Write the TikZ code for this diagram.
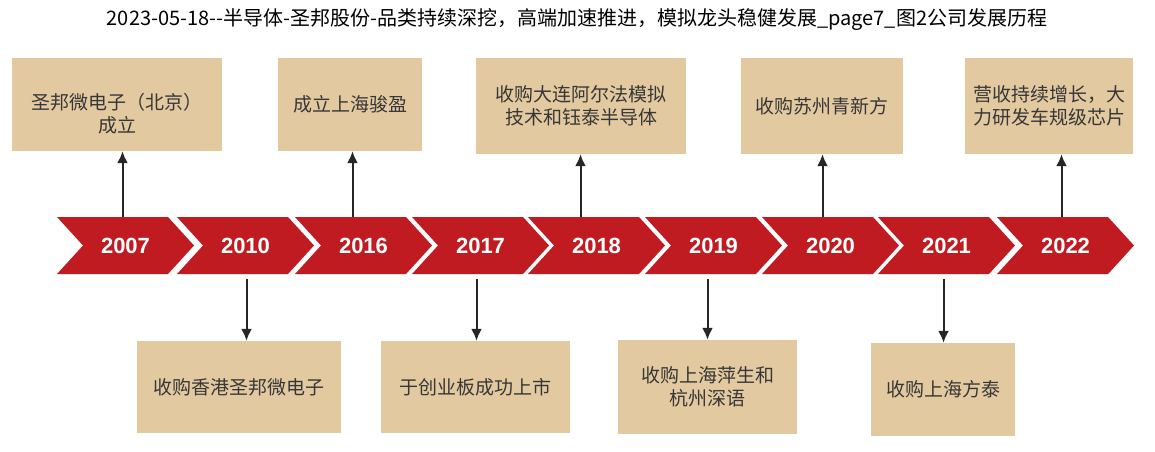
\documentclass[tikz,border=0pt]{standalone}
\usepackage{fontspec}
\setmainfont{Noto Sans CJK SC}
\newfontfamily\yearfont{Liberation Sans}[BoldFont=* Bold]
\usetikzlibrary{arrows.meta}
\definecolor{chevred}{RGB}{192,27,33}
\definecolor{boxtan}{RGB}{227,201,160}
\definecolor{txtgray}{RGB}{55,55,55}
\tikzset{
  chev/.style={fill=chevred, draw=none},
  year/.style={font=\yearfont\bfseries\fontsize{22}{24}\selectfont, text=white, minimum width=137, minimum height=57, inner sep=0},
  evbox/.style={fill=boxtan, draw=none, inner sep=0, align=center, text=txtgray,
    font=\fontsize{19}{23}\selectfont},
  boxtext/.style={inner sep=0, align=center, text=txtgray, font=\fontsize{19}{23}\selectfont},
  arr/.style={draw=black!85, line width=2, -{Latex[length=12pt,width=11pt]}},
}
\begin{document}
\begin{tikzpicture}[x=1pt,y=-1pt]
\useasboundingbox (0,0) rectangle (1155,451);
\node[font=\fontsize{20}{22}\selectfont, text=black] (title) at (577,20) {2023-05-18-{}-半导体-圣邦股份-品类持续深挖，高端加速推进，模拟龙头稳健发展\_page7\_图2公司发展历程};
% chevrons
\foreach \L/\yr/\nm in {57/2007/y1, 177/2010/y2, 295/2016/y3, 412/2017/y4, 528/2018/y5, 645/2019/y6, 762/2020/y7, 878/2021/y8, 997/2022/y9}{
  \fill[chev] (\L,217) -- (\L+111,217) -- (\L+137,245.5) -- (\L+111,274) -- (\L,274) -- (\L+26,245.5) -- cycle;
  \node[year] (\nm) at (\L+68.5,245.5) {\yr};
}
% top boxes
\node[evbox, minimum width=210, minimum height=93] (b1) at (117,104.5) {};
\node[boxtext] (t1) at (117,114) {圣邦微电子（北京）\\成立};
\node[evbox, minimum width=144, minimum height=93] (b2) at (350,104.5) {成立上海骏盈};
\node[evbox, minimum width=210, minimum height=96] (b3) at (581,106) {收购大连阿尔法模拟\\技术和钰泰半导体};
\node[evbox, minimum width=162, minimum height=96] (b4) at (822,106) {收购苏州青新方};
\node[evbox, minimum width=168, minimum height=96] (b5) at (1049,106) {营收持续增长，大\\力研发车规级芯片};
% bottom boxes
\node[evbox, minimum width=204, minimum height=92] (b6) at (239,387) {收购香港圣邦微电子};
\node[evbox, minimum width=189, minimum height=92] (b7) at (475.5,387) {于创业板成功上市};
\node[evbox, minimum width=179, minimum height=94] (b8) at (707.5,387) {收购上海萍生和\\杭州深语};
\node[evbox, minimum width=144, minimum height=93] (b9) at (943,389.5) {收购上海方泰};
% arrows up
\draw[arr] ([xshift=-3]y1.north) -- ([xshift=-3]y1.north |- b1.south);
\draw[arr] ([xshift=-11]y3.north) -- ([xshift=-11]y3.north |- b2.south);
\draw[arr] ([xshift=-16]y5.north) -- ([xshift=-16]y5.north |- b3.south);
\draw[arr] ([xshift=-8]y7.north) -- ([xshift=-8]y7.north |- b4.south);
\draw[arr] ([xshift=-4]y9.north) -- ([xshift=-4]y9.north |- b5.south);
% arrows down
\draw[arr] ([xshift=1,yshift=-5]y2.south) -- ([xshift=1]y2.south |- b6.north);
\draw[arr] ([xshift=-4,yshift=-5]y4.south) -- ([xshift=-4]y4.south |- b7.north);
\draw[arr] ([xshift=-6,yshift=-5]y6.south) -- ([xshift=-6]y6.south |- b8.north);
\draw[arr] ([xshift=-3,yshift=-5]y8.south) -- ([xshift=-3]y8.south |- b9.north);
\end{tikzpicture}
\end{document}
